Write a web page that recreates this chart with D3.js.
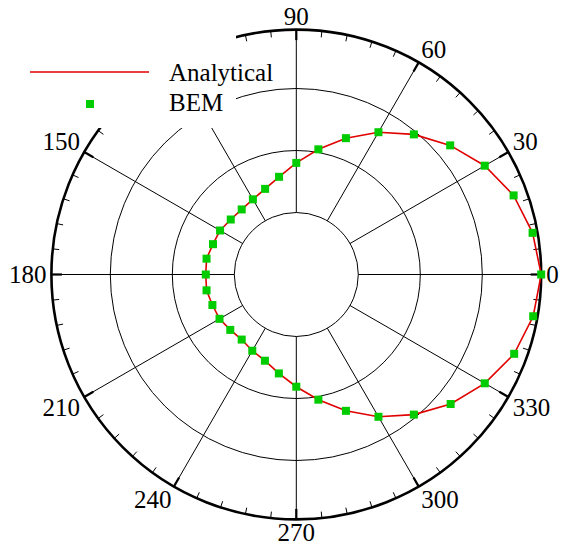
<!DOCTYPE html>
<html>
<head>
<meta charset="utf-8">
<script src="https://cdn.jsdelivr.net/npm/d3@7"></script>
<style>
    html, body { margin: 0; padding: 0; background: #fff; }
    #polar-chart { width: 568px; height: 545px; }
</style>
</head>
<body>
<div id="polar-chart"></div>
<script>
// angles in degrees (counter-clockwise from 0 = east)
let bemAngles = [0, 10, 20, 30, 40, 50, 60, 70, 80, 90, 100, 110, 120, 130, 140, 150, 160, 170,
    180, 190, 200, 210, 220, 230, 240, 250, 260, 270, 280, 290, 300, 310, 320, 330, 340, 350];
let bemValues = [3.95, 3.87, 3.73, 3.51, 3.24, 2.95, 2.65, 2.34, 2.05, 1.80, 1.60, 1.47, 1.40, 1.37, 1.38, 1.42, 1.43, 1.47,
    1.46, 1.47, 1.44, 1.43, 1.39, 1.37, 1.42, 1.48, 1.62, 1.81, 2.05, 2.34, 2.65, 2.95, 3.25, 3.51, 3.74, 3.88];

let analyticalAngles = bemAngles.slice();
let analyticalValues = [3.95, 3.87, 3.73, 3.51, 3.24, 2.95, 2.65, 2.34, 2.05, 1.80, 1.60, 1.47, 1.40, 1.37, 1.38, 1.42, 1.43, 1.47,
    1.46, 1.47, 1.44, 1.43, 1.39, 1.37, 1.42, 1.48, 1.62, 1.81, 2.05, 2.34, 2.65, 2.95, 3.25, 3.51, 3.74, 3.88];

let angleTicks = [0, 30, 60, 90, 120, 150, 180, 210, 240, 270, 300, 330];
let ringValues = [1, 2, 3];
let radialMax = 3.95;

let seriesNames = ["Analytical", "BEM"];

function drawPolarChart() {
    let div = document.getElementById("polar-chart");
    let divWidth = 568;
    let divHeight = 545;
    let cx = 296.3, cy = 274.5;

    let svg = d3.select(div).append("svg")
        .attr("width", divWidth)
        .attr("height", divHeight);

    svg.append("rect")
        .attr("width", divWidth).attr("height", divHeight)
        .attr("fill", "#fff");

    let g = svg.append("g").attr("transform", `translate(${cx},${cy})`);

    let r = d3.scaleLinear().domain([0, 4]).range([0, 248]);
    // math angle (deg) -> radians
    let a = d3.scaleLinear().domain([0, 360]).range([0, 2 * Math.PI]);
    let px = (deg, v) => r(v) * Math.cos(a(deg));
    let py = (deg, v) => -r(v) * Math.sin(a(deg));

    // rings
    g.selectAll(".ring").data(ringValues).enter()
        .append("circle")
        .attr("class", "ring")
        .attr("r", d => r(d))
        .attr("fill", "none")
        .attr("stroke", "#000")
        .attr("stroke-width", 1);

    // spokes from the first ring out to the edge
    g.selectAll(".spoke").data(angleTicks).enter()
        .append("line")
        .attr("class", "spoke")
        .attr("x1", d => px(d, ringValues[0])).attr("y1", d => py(d, ringValues[0]))
        .attr("x2", d => px(d, radialMax)).attr("y2", d => py(d, radialMax))
        .attr("stroke", "#000")
        .attr("stroke-width", 1);

    // minor ticks every 6 degrees
    let minor = d3.range(0, 360, 6).filter(d => d % 30 !== 0);
    g.selectAll(".minor-tick").data(minor).enter()
        .append("line")
        .attr("x1", d => px(d, radialMax)).attr("y1", d => py(d, radialMax))
        .attr("x2", d => px(d, radialMax) - 6.5 * Math.cos(a(d))).attr("y2", d => py(d, radialMax) + 6.5 * Math.sin(a(d)))
        .attr("stroke", "#000")
        .attr("stroke-width", 1);

    // major ticks
    g.selectAll(".major-tick").data(angleTicks).enter()
        .append("line")
        .attr("x1", d => px(d, radialMax)).attr("y1", d => py(d, radialMax))
        .attr("x2", d => px(d, radialMax) - 10.5 * Math.cos(a(d))).attr("y2", d => py(d, radialMax) + 10.5 * Math.sin(a(d)))
        .attr("stroke", "#000")
        .attr("stroke-width", 2.2);

    // outer edge
    g.append("circle")
        .attr("r", r(radialMax))
        .attr("fill", "none")
        .attr("stroke", "#000")
        .attr("stroke-width", 2.6);

    // angle labels
    let labR = 4.03;
    g.selectAll(".angle-label").data(angleTicks).enter()
        .append("text")
        .attr("x", d => px(d, labR))
        .attr("y", d => py(d, labR))
        .attr("text-anchor", d => {
            let c = Math.cos(a(d));
            return c > 0.01 ? "start" : (c < -0.01 ? "end" : "middle");
        })
        .attr("dy", d => {
            let s = Math.sin(a(d));
            return s > 0.01 ? "0em" : (s < -0.01 ? "0.68em" : "0.34em");
        })
        .text(d => d)
        .attr("font-family", "Liberation Serif, serif")
        .attr("font-size", 25)
        .attr("fill", "#000");

    // data
    let line = d3.lineRadial()
        .angle(d => Math.PI / 2 - a(d[0]))
        .radius(d => r(d[1]))
        .curve(d3.curveLinearClosed);

    let analytical = analyticalAngles.map((d, i) => [d, analyticalValues[i]]);
    let bem = bemAngles.map((d, i) => [d, bemValues[i]]);

    g.append("path")
        .attr("d", line(analytical))
        .attr("fill", "none")
        .attr("stroke", "#e00000")
        .attr("stroke-width", 1.6);

    g.selectAll(".bem").data(bem).enter()
        .append("rect")
        .attr("x", d => px(d[0], d[1]) - 4)
        .attr("y", d => py(d[0], d[1]) - 4)
        .attr("width", 8).attr("height", 8)
        .attr("fill", "#00cc00");

    // legend box (opaque, hides the grid behind it)
    svg.append("rect")
        .attr("x", 0).attr("y", 0)
        .attr("width", 236).attr("height", 128)
        .attr("fill", "#fff");

    let legend = svg.append("g").attr("transform", "translate(30,72)");
    legend.append("line")
        .attr("x1", 0).attr("x2", 119)
        .attr("y1", 0).attr("y2", 0)
        .attr("stroke", "#e00000")
        .attr("stroke-width", 1.6);
    legend.append("rect")
        .attr("x", 56).attr("y", 28)
        .attr("width", 8).attr("height", 8)
        .attr("fill", "#00cc00");
    legend.selectAll(".legend-text").data(seriesNames).enter()
        .append("text")
        .attr("x", 139)
        .attr("y", (d, i) => 9 + i * 30)
        .text(d => d)
        .attr("font-family", "Liberation Serif, serif")
        .attr("font-size", 25)
        .attr("fill", "#000");
}

drawPolarChart();
</script>
</body>
</html>
